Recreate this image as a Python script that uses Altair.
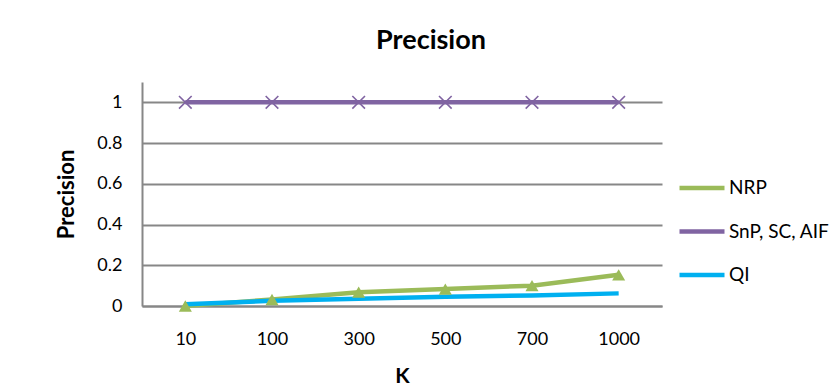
import altair as alt
import pandas as pd

K = ["10", "100", "300", "500", "700", "1000"]
series_names = ["NRP", "SnP, SC, AIF", "QI"]
nrp = [0.0, 0.032, 0.068, 0.083, 0.10, 0.153]
snp = [1.0, 1.0, 1.0, 1.0, 1.0, 1.0]
qi = [0.008, 0.026, 0.036, 0.045, 0.052, 0.062]
colors = ["#9BBB59", "#8064A2", "#00B0F0"]
y_ticks = [0, 0.2, 0.4, 0.6, 0.8, 1]

rows = []
for name, vals in zip(series_names, [nrp, snp, qi]):
    for k, v in zip(K, vals):
        rows.append({"K": k, "Precision": v, "Series": name})
df = pd.DataFrame(rows)

FONT = "Lato"
GRAY = "#878787"

x_enc = alt.X(
    "K:N", sort=K, scale=alt.Scale(type="point", padding=0.5),
    axis=alt.Axis(title="K", labelAngle=0, ticks=False, grid=False,
                  labelPadding=24, titlePadding=17, domainColor=GRAY, domainWidth=2,
                  labelFontSize=18, titleFontSize=21, titleFontWeight="bold",
                  labelFont=FONT, titleFont=FONT, labelColor="#000", titleColor="#000"),
)
y_enc = alt.Y(
    "Precision:Q", scale=alt.Scale(domain=[0, 1.1], nice=False),
    axis=alt.Axis(title="Precision", values=y_ticks, format="~g", ticks=False, grid=True,
                  gridColor=GRAY, gridWidth=2, domainColor=GRAY, domainWidth=2,
                  labelPadding=20, titlePadding=18,
                  labelFontSize=18, titleFontSize=22, titleFontWeight="bold",
                  labelFont=FONT, titleFont=FONT, labelColor="#000", titleColor="#000"),
)

base = alt.Chart(df)

lines = base.mark_line(strokeWidth=4.5).encode(
    x=x_enc, y=y_enc,
    color=alt.Color(
        "Series:N", scale=alt.Scale(domain=series_names, range=colors),
        legend=alt.Legend(title=None, orient="none", legendX=535, legendY=81,
                          symbolType="stroke", symbolSize=2025, symbolStrokeWidth=4.5,
                          rowPadding=8.5, labelOffset=2, labelFontSize=19, labelFont=FONT,
                          labelColor="#000", padding=0),
    ),
)

tri = base.transform_filter(alt.datum.Series == "NRP").mark_point(
    shape="triangle-up", filled=True, size=170, color=colors[0], opacity=1
).encode(x=x_enc, y=y_enc)

crosses = base.transform_filter(alt.datum.Series == "SnP, SC, AIF").mark_point(
    shape="M-1,-1L1,1M-1,1L1,-1", filled=False, size=160, color=colors[1],
    strokeWidth=1.6, opacity=1
).encode(x=x_enc, y=y_enc)

chart = alt.layer(lines, tri, crosses).properties(
    width=520, height=224,
    title=alt.TitleParams("Precision", fontSize=27, font=FONT, fontWeight="bold",
                          anchor="middle", dx=29, color="#000", offset=27),
    autosize=alt.AutoSizeParams(type="none"),
    padding={"left": 142, "top": 82, "right": 169, "bottom": 82},
).configure_view(stroke=None)

chart.save("out.html", embed_options={"renderer": "svg", "actions": False})
